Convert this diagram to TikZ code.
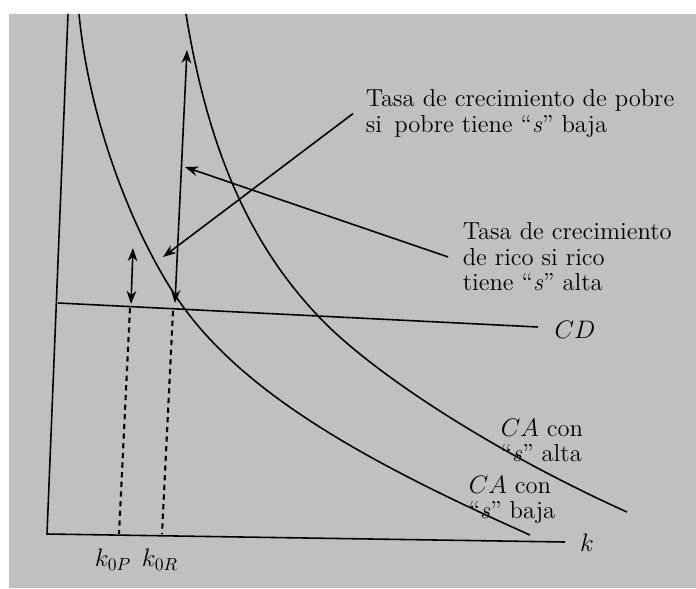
\documentclass[tikz,border=0pt]{standalone}
\usetikzlibrary{arrows.meta}
\definecolor{paper}{RGB}{190,192,194}

\begin{document}
\begin{tikzpicture}[x=0.02cm, y=-0.02cm, line width=0.9pt,
  every node/.style={font=\fontsize{14}{14.5}\selectfont},
  textblock/.style={inner sep=0pt, anchor=north west, align=left},
  arrow/.style={-{Stealth[length=7.5pt, width=5.5pt]}},
  twoway/.style={{Stealth[length=7.5pt, width=5.5pt]}-{Stealth[length=7.5pt, width=5.5pt]}},
  guide/.style={dash pattern=on 3pt off 2.5pt, line width=1.2pt}]

\useasboundingbox (0,0) rectangle (696,588);
\fill[paper] (9,14) rectangle (696,588);

\coordinate (yTop) at (68,14);
\coordinate (origin) at (47,534);
\coordinate (xEnd) at (565,542);
\coordinate (cdStart) at (58,303);
\coordinate (cdEnd) at (538,327);

\draw (yTop) -- (origin) -- (xEnd);
\node[inner sep=0pt] (kAxis) at (587,543) {$k$};

\draw (cdStart) -- (cdEnd);
\node[inner sep=0pt] (cdLabel) at (575,330) {$CD$};

\coordinate (bajaTop) at (79,14);
\coordinate (bajaMid) at (187,312);
\coordinate (bajaEnd) at (530,535);
\draw (bajaTop) .. controls (90,130) and (140,250) .. (bajaMid)
  .. controls (253.4,399.7) and (374.8,465.8) .. (bajaEnd);

\coordinate (altaTop) at (186,14);
\coordinate (altaMid) at (320,318);
\coordinate (altaEnd) at (627,512);
\draw (altaTop) .. controls (208.4,152.2) and (251,246) .. (altaMid)
  .. controls (375.4,375.8) and (499.3,454.6) .. (altaEnd);

\node[textblock] (altaLabel) at (500,418) {$CA$ con\\``\textit{s}'' alta};
\node[textblock] (bajaLabel) at (468,475) {$CA$ con\\``\textit{s}'' baja};

\coordinate (kPoorTop) at (130,308);
\coordinate (kPoorBase) at (119,534);
\coordinate (kRichTop) at (173,311);
\coordinate (kRichBase) at (162,534);
\draw[guide] (kPoorTop) -- (kPoorBase);
\draw[guide] (kRichTop) -- (kRichBase);
\node (kPoor) at (113,560) {$k_{0P}$};
\node (kRich) at (160,560) {$k_{0R}$};

\coordinate (poorGapTop) at (133,248);
\coordinate (poorGapBase) at (131,304);
\coordinate (richGapTop) at (187,50);
\coordinate (richGapBase) at (175,303);
\draw[twoway] (poorGapTop) -- (poorGapBase);
\draw[twoway] (richGapTop) -- (richGapBase);

\node[textblock] (pobreLabel) at (365,89) {Tasa de crecimiento de pobre\\si\enspace pobre tiene ``\textit{s}'' baja};
\coordinate (pobreTip) at (163,257);
\draw[arrow] ([xshift=-0.24cm]pobreLabel.west) -- (pobreTip);

\node[textblock] (ricoLabel) at (462,222) {Tasa de crecimiento\\de rico si rico\\tiene ``\textit{s}'' alta};
\coordinate (ricoTip) at (185,167);
\draw[arrow] ([xshift=-0.28cm]ricoLabel.west) -- (ricoTip);

\end{tikzpicture}
\end{document}
